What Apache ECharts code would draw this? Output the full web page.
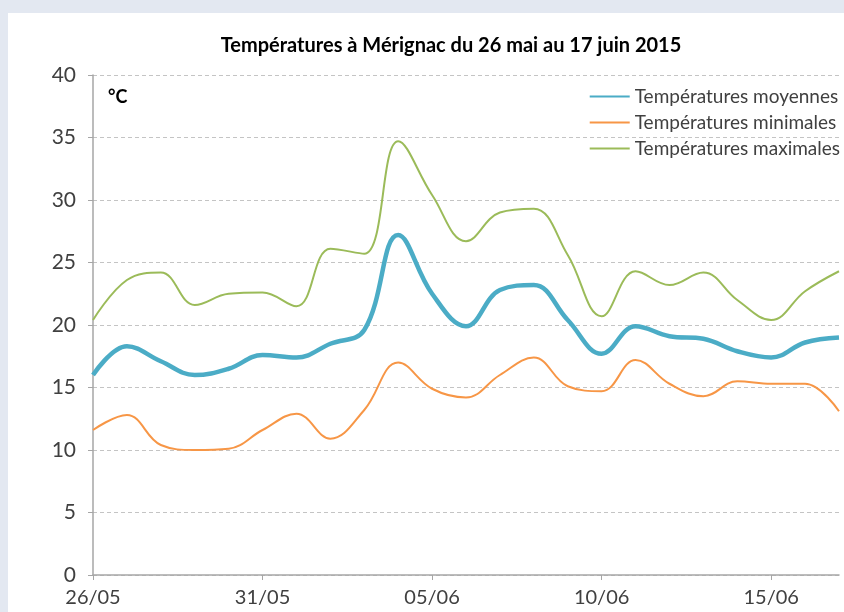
<!DOCTYPE html>
<html><head><meta charset="utf-8">
<script src="https://cdn.jsdelivr.net/npm/echarts@6/dist/echarts.min.js"></script>
<style>html,body{margin:0;padding:0;background:#fff}#c{width:844px;height:612px}</style>
</head><body><div id="c"></div>
<script>
const dates = ['26/05','27/05','28/05','29/05','30/05','31/05','01/06','02/06','03/06','04/06','05/06','06/06','07/06','08/06','09/06','10/06','11/06','12/06','13/06','14/06','15/06','16/06','17/06'];
const tMoy = [16.0,18.3,17.1,16.0,16.5,17.6,17.4,18.5,19.6,27.2,22.5,19.9,22.8,23.2,20.4,17.7,19.9,19.1,18.9,17.9,17.4,18.6,19.0];
const tMin = [11.6,12.8,10.4,10.0,10.1,11.6,12.9,10.9,13.2,17.0,14.9,14.2,16.0,17.4,15.1,14.7,17.2,15.3,14.3,15.5,15.3,15.3,13.1];
const tMax = [20.4,23.6,24.2,21.6,22.5,22.6,21.5,26.1,25.7,34.7,30.4,26.7,29.0,29.3,25.6,20.7,24.3,23.2,24.2,22.0,20.4,22.7,24.3];
const yTicks = [0,5,10,15,20,25,30,35,40];
const seriesNames = ['Températures moyennes','Températures minimales','Températures maximales'];

const font = 'Lato, "Open Sans", sans-serif';
const chart = echarts.init(document.getElementById('c'), null, {renderer:'canvas'});
chart.setOption({
  animation:false,
  backgroundColor:'#ffffff',
  graphic:[
    {type:'rect', left:0, top:0, shape:{width:844,height:612}, style:{fill:'#e3e8f1'}, z:-10, silent:true},
    {type:'rect', left:8, top:13, shape:{width:836,height:599}, style:{fill:'#ffffff'}, z:-9, silent:true},
    {type:'text', left:108, top:88, style:{text:'°C', font:'bold 18px '+font, fill:'#000'}}
  ],
  title:{
    text:'Températures à Mérignac du 26 mai au 17 juin 2015',
    left:446, textAlign:'center', top:31,
    textStyle:{fontFamily:font, fontWeight:'bold', fontSize:20, color:'#000'}
  },
  legend:{
    orient:'vertical', right:4, top:87, padding:0, itemWidth:40, itemHeight:14, itemGap:7,
    textStyle:{fontFamily:font, fontSize:19, color:'#404040'},
    itemStyle:{opacity:0},
    data:seriesNames
  },
  grid:{left:93, right:5, top:75, bottom:37, containLabel:false},
  xAxis:{
    type:'category', data:dates, boundaryGap:false,
    axisLine:{lineStyle:{color:'#a6a6a6', width:1.5}},
    axisTick:{show:true, length:5, interval:(i)=>i%5===0, lineStyle:{color:'#a6a6a6'}},
    axisLabel:{interval:(i)=>i%5===0, fontFamily:font, fontSize:20, color:'#404040', margin:13},
    splitLine:{show:false}
  },
  yAxis:{
    type:'value', min:0, max:40, interval:5,
    axisLine:{show:true, lineStyle:{color:'#a6a6a6', width:1.5}},
    axisTick:{show:true, length:5, lineStyle:{color:'#a6a6a6'}},
    axisLabel:{fontFamily:font, fontSize:21, color:'#404040', margin:17,
      formatter:(v)=> yTicks.includes(v) ? String(v) : ''},
    splitLine:{lineStyle:{color:'#c4c4c4', type:[4,3], width:1}}
  },
  series:[
    {name:seriesNames[0], type:'line', data:tMoy, smooth:0.4, symbol:'none', z:3,
      lineStyle:{color:'#4bacc6', width:4.5}, itemStyle:{color:'#4bacc6'}},
    {name:seriesNames[1], type:'line', data:tMin, smooth:0.4, symbol:'none', z:2,
      lineStyle:{color:'#f79646', width:2}, itemStyle:{color:'#f79646'}},
    {name:seriesNames[2], type:'line', data:tMax, smooth:0.4, symbol:'none', z:2,
      lineStyle:{color:'#9bbb59', width:2}, itemStyle:{color:'#9bbb59'}}
  ]
});
</script></body></html>
